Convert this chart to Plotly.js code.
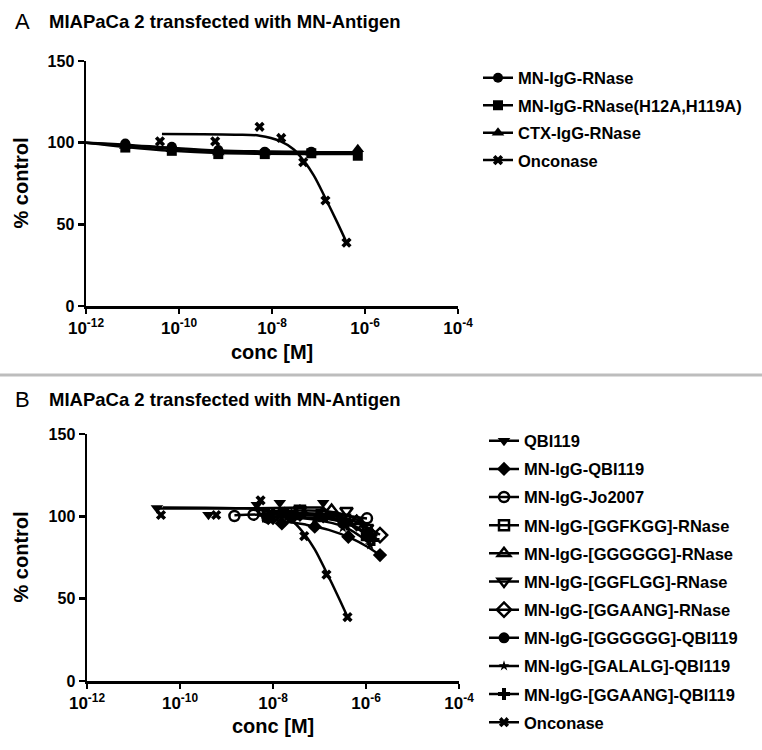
<!DOCTYPE html>
<html>
<head>
<meta charset="utf-8">
<script src="https://cdn.plot.ly/plotly-3.0.1.min.js"></script>
<style>
  html, body { margin: 0; padding: 0; background: #fff; }
  #chart { width: 762px; height: 750px; }
</style>
</head>
<body>
<div id="chart"></div>
<script>
// ---------- Tick labels ----------
const xTickVals = [1e-12, 1e-10, 1e-8, 1e-6, 1e-4];
const xTickText = ['10<sup>-12</sup>', '10<sup>-10</sup>', '10<sup>-8</sup>', '10<sup>-6</sup>', '10<sup>-4</sup>'];
const yTickVals = [0, 50, 100, 150];

// ---------- Panel A data ----------
const namesA = ['MN-IgG-RNase', 'MN-IgG-RNase(H12A,H119A)', 'CTX-IgG-RNase', 'Onconase'];

const a1Conc = [7e-12, 7e-11, 7e-10, 7e-9, 7e-8];
const a1Val  = [99.5, 97.5, 95.5, 94.5, 94.5];
const a1FitConc = [1e-12, 7e-12, 7e-11, 7e-10, 7e-9, 7e-8];
const a1FitVal  = [100, 98.8, 96.8, 95.2, 94.6, 94.4];

const a2Conc = [7e-12, 7e-11, 7e-10, 7e-9, 7e-8, 7e-7];
const a2Val  = [97, 95, 93, 93, 93.5, 92];
const a2FitConc = [1e-12, 7e-12, 7e-11, 7e-10, 7e-9, 7e-8, 7e-7];
const a2FitVal  = [100, 97.4, 95, 93.6, 93.2, 93.1, 93.1];

const a3Conc = [7e-12, 7e-11, 7e-10, 7e-9, 7e-8, 7e-7];
const a3Val  = [98, 96, 94, 94, 94, 96];
const a3FitConc = [1e-12, 7e-12, 7e-11, 7e-10, 7e-9, 7e-8, 7e-7];
const a3FitVal  = [100, 98.2, 96.2, 94.8, 94.3, 94.2, 94.2];

const oncConc = [3.9e-11, 6.0e-10, 5.4e-9, 1.58e-8, 4.7e-8, 1.41e-7, 4.0e-7];
const oncVal  = [100.8, 100.8, 109.7, 102.9, 88, 64.6, 38.8];
const oncFitConc = [4.3e-11, 3.2e-10, 1.6e-9, 5.4e-9, 1.5e-8, 2.9e-8, 4.8e-8, 7.9e-8, 1.41e-7, 2.5e-7, 4.0e-7];
const oncFitVal  = [105.3, 105.2, 104.9, 104.3, 101, 96, 89, 80, 66, 51.5, 39];

// ---------- Panel B data ----------
const namesB = ['QBI119', 'MN-IgG-QBI119', 'MN-IgG-Jo2007', 'MN-IgG-[GGFKGG]-RNase', 'MN-IgG-[GGGGGG]-RNase',
  'MN-IgG-[GGFLGG]-RNase', 'MN-IgG-[GGAANG]-RNase', 'MN-IgG-[GGGGGG]-QBI119', 'MN-IgG-[GALALG]-QBI119',
  'MN-IgG-[GGAANG]-QBI119', 'Onconase'];

const b1Conc = [3.2e-11, 4.1e-10, 4.5e-9, 1.4e-8, 1.2e-7];
const b1Val  = [105, 101, 107, 108.3, 108.3];
const b1FitConc = [3.2e-11, 1e-9, 1e-8, 5e-8, 1.2e-7];
const b1FitVal  = [104.8, 104.8, 105, 105.3, 105.3];

const b2Conc = [7.9e-9, 1.55e-8, 7.9e-8, 4.17e-7, 2.0e-6];
const b2Val  = [99, 95.7, 93.7, 87.6, 76.5];
const b2FitConc = [7.9e-9, 1.58e-8, 5e-8, 1.58e-7, 5e-7, 1e-6, 2e-6];
const b2FitVal  = [98.5, 97.2, 95, 91.8, 86.5, 82, 76.5];

const b3Conc = [1.48e-9, 3.8e-9, 3.8e-8, 1.12e-7, 1.05e-6];
const b3Val  = [100.2, 101, 102, 101, 98.8];
const b3FitConc = [1.48e-9, 1e-8, 1e-7, 3.16e-7, 1.05e-6];
const b3FitVal  = [100.6, 101.3, 101.2, 100.5, 98.7];

const b4Conc = [7.9e-9, 3.8e-8, 1.12e-7, 3.55e-7, 1.05e-6];
const b4Val  = [100, 103.4, 100.8, 98, 88.6];
const b4FitConc = [7.9e-9, 3.16e-8, 1e-7, 3.16e-7, 6.3e-7, 1.05e-6];
const b4FitVal  = [101.5, 101.6, 100.5, 97.5, 93.5, 89];

const b5Conc = [1e-8, 2.5e-8, 1.82e-7, 6.3e-7, 1.26e-6];
const b5Val  = [101, 100, 103.8, 97, 90];
const b5FitConc = [1e-8, 5e-8, 1.82e-7, 6.3e-7, 1.26e-6];
const b5FitVal  = [101.5, 101.8, 101, 96.5, 90.5];

const b6Conc = [6.3e-9, 3.8e-8, 3.8e-7, 1.05e-6];
const b6Val  = [102, 104, 103.4, 93];
const b6FitConc = [6.3e-9, 3.16e-8, 1.58e-7, 5e-7, 1.05e-6];
const b6FitVal  = [103, 103.5, 103, 99.5, 93.5];

const b7Conc = [1e-8, 3.8e-8, 1.2e-7, 6.3e-7, 2e-6];
const b7Val  = [100, 102, 101, 96, 88.6];
const b7FitConc = [1e-8, 5e-8, 2e-7, 6.3e-7, 2e-6];
const b7FitVal  = [101, 101.5, 100, 96.5, 88.8];

const b8Conc = [7.76e-9, 2.5e-8, 1e-7, 3.16e-7, 1.05e-6];
const b8Val  = [98.8, 99, 100, 96, 88.6];
const b8FitConc = [7.76e-9, 3.16e-8, 1e-7, 3.16e-7, 6.3e-7, 1.05e-6];
const b8FitVal  = [99.2, 99.5, 99, 96.5, 93, 88.8];

const b9Conc = [7.9e-9, 2.5e-8, 7.9e-8, 3.16e-7, 1.23e-6];
const b9Val  = [100, 99, 98, 93, 82.6];
const b9FitConc = [7.9e-9, 2.5e-8, 7.9e-8, 3.16e-7, 7e-7, 1.23e-6];
const b9FitVal  = [100, 99.5, 98, 94, 88.5, 83];

const b10Conc = [6.3e-9, 2e-8, 1e-7, 4e-7, 1.45e-6];
const b10Val  = [101, 102, 100, 95, 85.6];
const b10FitConc = [6.3e-9, 2e-8, 1e-7, 4e-7, 8e-7, 1.45e-6];
const b10FitVal  = [101.5, 101.5, 100, 95.5, 91, 85.8];

// ---------- Styles ----------
const FONT = 'Liberation Sans, Arial, Helvetica, sans-serif';
const LW = 2.5;

const symA = [
  {symbol: 'circle', size: 10},
  {symbol: 'square', size: 10},
  {symbol: 'triangle-up', size: 11},
  {symbol: 'x', size: 9}
];
const symB = [
  {symbol: 'triangle-down', size: 11},
  {symbol: 'diamond', size: 11},
  {symbol: 'circle-open', size: 10},
  {symbol: 'square-open', size: 10},
  {symbol: 'triangle-up-open', size: 11},
  {symbol: 'triangle-down-open', size: 11},
  {symbol: 'diamond-open', size: 11},
  {symbol: 'circle', size: 11},
  {symbol: 'star', size: 8},
  {symbol: 'cross', size: 10},
  {symbol: 'x', size: 9}
];

function mk(s) {
  return {symbol: s.symbol, size: s.size, color: 'black',
          line: {color: 'black', width: s.symbol.indexOf('open') >= 0 ? 2.5 : 0}};
}

const traces = [];
function addSeries(conc, val, fitC, fitV, sym, xa, ya) {
  traces.push({x: fitC, y: fitV, xaxis: xa, yaxis: ya, mode: 'lines', type: 'scatter',
    line: {color: 'black', width: LW, shape: 'spline', smoothing: 1}, showlegend: false, hoverinfo: 'skip'});
  traces.push({x: conc, y: val, xaxis: xa, yaxis: ya, mode: 'markers', type: 'scatter',
    marker: mk(sym), showlegend: false, cliponaxis: false});
}
function addLegend(name, sym, xa, ya, leg, i) {
  traces.push({x: [null], y: [null], xaxis: xa, yaxis: ya, mode: 'lines+markers', type: 'scatter',
    name: name, legend: leg, legendgroup: leg + '_' + i,
    line: {color: 'black', width: LW}, marker: mk(sym), showlegend: true});
}

const seriesA = [
  [a1Conc, a1Val, a1FitConc, a1FitVal],
  [a2Conc, a2Val, a2FitConc, a2FitVal],
  [a3Conc, a3Val, a3FitConc, a3FitVal],
  [oncConc, oncVal, oncFitConc, oncFitVal]
];
seriesA.forEach((s, i) => addSeries(s[0], s[1], s[2], s[3], symA[i], 'x', 'y'));

const seriesB = [
  [b1Conc, b1Val, b1FitConc, b1FitVal],
  [b2Conc, b2Val, b2FitConc, b2FitVal],
  [b3Conc, b3Val, b3FitConc, b3FitVal],
  [b4Conc, b4Val, b4FitConc, b4FitVal],
  [b5Conc, b5Val, b5FitConc, b5FitVal],
  [b6Conc, b6Val, b6FitConc, b6FitVal],
  [b7Conc, b7Val, b7FitConc, b7FitVal],
  [b8Conc, b8Val, b8FitConc, b8FitVal],
  [b9Conc, b9Val, b9FitConc, b9FitVal],
  [b10Conc, b10Val, b10FitConc, b10FitVal],
  [oncConc, oncVal, oncFitConc, oncFitVal]
];
seriesB.forEach((s, i) => addSeries(s[0], s[1], s[2], s[3], symB[i], 'x2', 'y2'));

namesA.forEach((n, i) => addLegend(n, symA[i], 'x', 'y', 'legend', i));
namesB.forEach((n, i) => addLegend(n, symB[i], 'x2', 'y2', 'legend2', i));

const W = 762, H = 750;
const px = v => v / W;
const py = v => 1 - v / H;

function xAxis(d0, d1, anchor) {
  return {type: 'log', domain: [px(d0), px(d1)], range: [-12, -4], anchor: anchor,
    showline: true, linecolor: 'black', linewidth: LW, ticks: 'outside', ticklen: 5, tickwidth: LW,
    tickcolor: 'black', tickvals: xTickVals, ticktext: xTickText.map(t => '<b>' + t + '</b>'),
    tickfont: {family: FONT, size: 17, color: 'black', weight: 'bold'},
    showgrid: false, zeroline: false, fixedrange: true};
}
function yAxis(top, bottom, anchor) {
  return {domain: [py(bottom), py(top)], range: [0, 150], anchor: anchor,
    showline: true, linecolor: 'black', linewidth: LW, ticks: 'outside', ticklen: 6, tickwidth: LW,
    tickcolor: 'black', tickvals: yTickVals, ticktext: yTickVals.map(v => '<b>' + v + '</b>'),
    tickfont: {family: FONT, size: 16, color: 'black', weight: 'bold'},
    showgrid: false, zeroline: false, fixedrange: true};
}
function legendCfg(x, y, gap) {
  return {x: px(x), y: py(y), xanchor: 'left', yanchor: 'top', bgcolor: 'rgba(0,0,0,0)',
    font: {family: FONT, size: 16.5, color: 'black', weight: 'bold'},
    traceorder: 'grouped', tracegroupgap: gap, itemclick: false, itemdoubleclick: false};
}

const titleText = 'MIAPaCa 2 transfected with MN-Antigen';
const ann = (text, x, y, opts) => Object.assign({text: text, x: px(x), y: py(y), xref: 'paper', yref: 'paper',
  showarrow: false, xanchor: 'left', yanchor: 'middle'}, opts);

const layout = {
  width: W, height: H,
  margin: {l: 0, r: 0, t: 0, b: 0},
  paper_bgcolor: 'white', plot_bgcolor: 'white',
  font: {family: FONT, color: 'black'},
  xaxis: xAxis(86, 458, 'y'),
  yaxis: yAxis(61, 306, 'x'),
  xaxis2: xAxis(87, 459, 'y2'),
  yaxis2: yAxis(434, 681, 'x2'),
  legend: legendCfg(478, 60.5, 3),
  legend2: legendCfg(484, 423.5, 3.7),
  shapes: [{type: 'line', xref: 'paper', yref: 'paper', x0: 0, x1: 1, y0: py(375), y1: py(375),
    line: {color: '#bdbdbd', width: 3}}],
  annotations: [
    ann('A', 13, 22, {font: {family: FONT, size: 22, color: 'black'}}),
    ann(titleText, 47, 22, {font: {family: FONT, size: 18.5, color: 'black', weight: 'bold'}}),
    ann('B', 13, 399, {font: {family: FONT, size: 22, color: 'black'}}),
    ann(titleText, 47, 399, {font: {family: FONT, size: 18.5, color: 'black', weight: 'bold'}}),
    ann('% control', 20, 183.5, {xanchor: 'center', textangle: -90, font: {family: FONT, size: 20, color: 'black', weight: 'bold'}}),
    ann('% control', 20, 557.5, {xanchor: 'center', textangle: -90, font: {family: FONT, size: 20, color: 'black', weight: 'bold'}}),
    ann('conc [M]', 272, 352, {xanchor: 'center', font: {family: FONT, size: 20, color: 'black', weight: 'bold'}}),
    ann('conc [M]', 273, 726, {xanchor: 'center', font: {family: FONT, size: 20, color: 'black', weight: 'bold'}})
  ],
  showlegend: true
};

Plotly.newPlot('chart', traces, layout, {displayModeBar: false, staticPlot: true});
</script>
</body>
</html>
